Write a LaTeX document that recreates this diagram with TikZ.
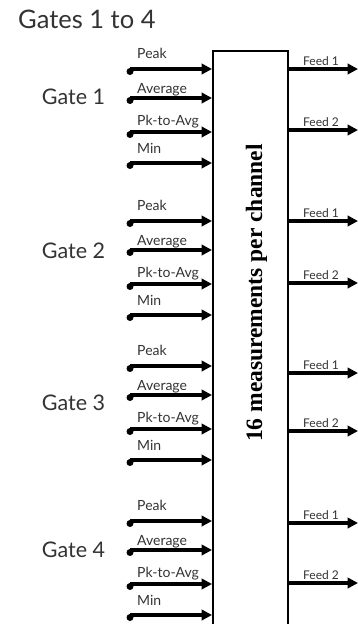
\documentclass[tikz,border=0pt]{standalone}
\usepackage{fontspec}
\setmainfont{Lato}
\newfontfamily\measfont{Liberation Serif}
\usetikzlibrary{arrows.meta}
\begin{document}
\begin{tikzpicture}[x=1pt,y=-1pt,line cap=butt,
  sig/.style={line width=3.2pt,-{Triangle[length=10.5pt,width=10.5pt]}},
  sigdot/.style={circle,fill,inner sep=0pt,minimum size=7pt},
  siglbl/.style={anchor=base west,inner sep=0pt,text=black!80,font=\fontsize{14}{16}\selectfont},
  feedlbl/.style={anchor=base west,inner sep=0pt,text=black!80,font=\fontsize{12}{14}\selectfont}]
\useasboundingbox (0,0) rectangle (358,624);
\clip (0,0) rectangle (358,624);
\node[anchor=base west,inner sep=0pt,text=black!80,font=\fontsize{25.5}{30}\selectfont] (title) at (18,28) {Gates 1 to 4};
% measurement block, runs off the bottom
\node[draw,line width=2pt,minimum width=75pt,minimum height=640pt,anchor=north,inner sep=0pt] (meas) at (250.5,50) {};
\node[rotate=90,anchor=base,inner sep=0pt,font=\measfont\bfseries\fontsize{23.5}{28}\selectfont] (measlbl) at (262,293) {16 measurements per channel};
% one block of inputs and feeds per gate: gate/peak y/label y/feed 1 y/feed 2 y
\foreach \g/\py/\gy/\fa/\fb in {1/69/104/69/130,2/221/258/221/283,3/366/410/373/431,4/521/557/523/583}{
\node[anchor=base,inner sep=0pt,text=black!80,font=\fontsize{21.5}{26}\selectfont] (gate\g) at (73.5,\gy) {Gate \g};
\foreach \m/\t/\dy/\ly in {pk/Peak/0/-11,avg/Average/29/24,pta/Pk-to-Avg/63/56,min/Min/94/84}{
  \coordinate (\m\g) at (130,{\py+\dy});
  \node[sigdot] (dot\m\g) at (130,{\py+\dy+2.5}) {};
  \draw[sig] (\m\g) -- (\m\g -| meas.west);
  \node[siglbl] (lbl\m\g) at (137,{\py+\ly}) {\t};}
\foreach \f/\fy in {1/\fa,2/\fb}{
  \coordinate (feed\f\g) at (358,\fy);
  \draw[sig] (feed\f\g -| meas.east) -- (feed\f\g);
  \node[feedlbl] (lblfeed\f\g) at (303,{\fy-4}) {Feed \f};}
}
\end{tikzpicture}
\end{document}
